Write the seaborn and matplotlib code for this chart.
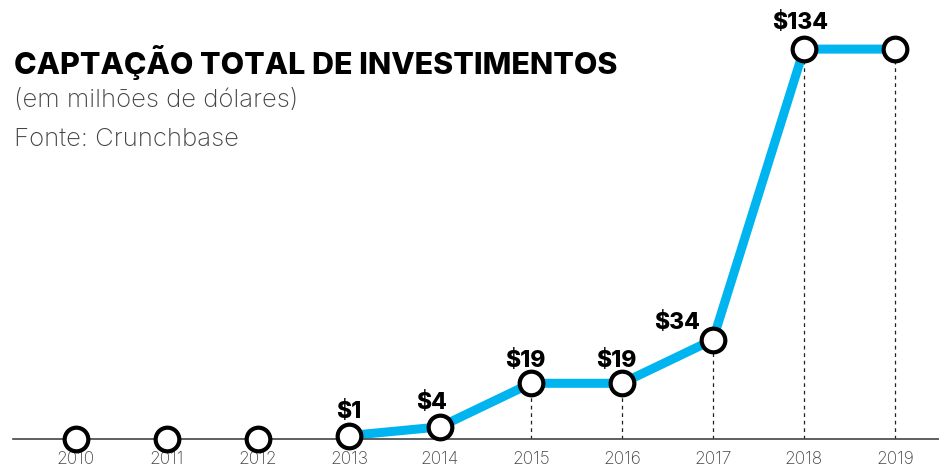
import numpy as np
import pandas as pd
import matplotlib
matplotlib.use("Agg")
import matplotlib.pyplot as plt
import seaborn as sns

# ===============================
# Data
# ===============================
years = [2010, 2011, 2012, 2013, 2014, 2015, 2016, 2017, 2018, 2019]
values = [0, 0, 0, 1, 4, 19, 19, 34, 134, 134]
labels = ["", "", "", "$1", "$4", "$19", "$19", "$34", "$134", ""]
dashed_years = [2015, 2016, 2017, 2018, 2019]
line_start = 2013

df = pd.DataFrame({"Ano": years, "Valor": values})

sns.set_style("white")
plt.rcParams["font.family"] = ["Inter", "DejaVu Sans"]

fig = plt.figure(figsize=(9.39, 4.68), dpi=100)
ax = fig.add_axes([13 / 939, 29.5 / 468, 1 - 13 / 939, 438.5 / 468])

blue = "#00b4f0"

# dashed guides
dash_vals = [values[years.index(y)] for y in dashed_years]
ax.vlines(dashed_years, 0, dash_vals, colors="#222222", linestyles=(0, (3, 3)),
          linewidth=0.9, zorder=1)

sns.lineplot(data=df[df["Ano"] >= line_start], x="Ano", y="Valor", color=blue,
             linewidth=6.5, ax=ax, zorder=2, clip_on=False)
sns.scatterplot(data=df, x="Ano", y="Valor", s=290, color="white",
                edgecolor="black", linewidth=3, ax=ax, zorder=3, clip_on=False)

# value labels
offsets = {"$1": (0, 9), "$4": (-6, 9), "$19": (-4, 8), "$34": (-26, 4),
           "$134": (-3, 11)}
for x, y, lab in zip(years, values, labels):
    if lab:
        dx, dy = offsets[lab]
        ax.annotate(lab, (x, y), xytext=(dx, dy), textcoords="offset points",
                    ha="center", va="bottom", fontsize=16.5, fontweight="heavy",
                    color="black")

ax.set_xlim(2009.308, 2019.4835)
ax.set_ylim(0, 150.9)
ax.set_xticks(years)
ax.set_xticklabels([str(y) for y in years], fontsize=12.5, color="#444444",
                   fontweight="light")
ax.tick_params(axis="x", length=0, pad=9)
ax.set_yticks([])
ax.set_xlabel("")
ax.set_ylabel("")
for side in ["top", "right", "left"]:
    ax.spines[side].set_visible(False)
ax.spines["bottom"].set_color("#444444")
ax.spines["bottom"].set_linewidth(1.2)

fig.text(14 / 939, 1 - 62 / 468, "CAPTAÇÃO TOTAL DE INVESTIMENTOS", fontsize=21.9,
         fontweight="heavy", color="black", va="center", ha="left")
fig.text(14 / 939, 1 - 101 / 468, "(em milhões de dólares)", fontsize=18.5,
         fontweight="light", color="#444444", va="center", ha="left")
fig.text(14 / 939, 1 - 139 / 468, "Fonte: Crunchbase", fontsize=18.5,
         fontweight="light", color="#444444", va="center", ha="left")

fig.savefig("out.png", dpi=100, facecolor="white")
